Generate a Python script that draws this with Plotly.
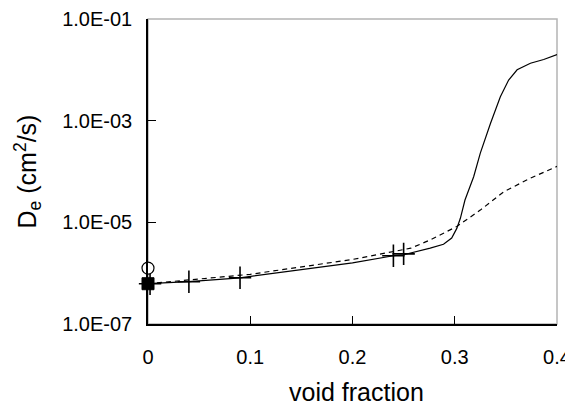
import plotly.graph_objects as go

# Solid curve
solid_x = [0, 0.04, 0.09, 0.2, 0.24, 0.25, 0.276, 0.289, 0.297, 0.302, 0.3055, 0.310,
           0.3185, 0.325, 0.335, 0.3446, 0.3527, 0.361, 0.374, 0.387, 0.4]
solid_y = [6.2e-7, 6.8e-7, 8.1e-7, 1.6e-6, 2.2e-6, 2.3e-6, 3.1e-6, 3.7e-6, 4.9e-6, 7.6e-6, 1.2e-5, 2.75e-5,
           7.9e-5, 2.3e-4, 8.9e-4, 2.95e-3, 6.3e-3, 1.0e-2, 1.35e-2, 1.6e-2, 2.0e-2]

# Dashed curve
dashed_x = [0, 0.1, 0.2, 0.257, 0.276, 0.302, 0.325, 0.348, 0.374, 0.4]
dashed_y = [6.2e-7, 9.5e-7, 1.86e-6, 3.1e-6, 4.5e-6, 8.3e-6, 1.74e-5, 4.0e-5, 7.4e-5, 1.26e-4]

# Plus markers
plus_x = [0.002, 0.04, 0.09, 0.24, 0.25]
plus_y = [6.2e-7, 6.8e-7, 8.1e-7, 2.2e-6, 2.4e-6]

# Open circle and filled square
circle_x = [0]
circle_y = [1.26e-6]
square_x = [0]
square_y = [6.2e-7]

x_ticks = [0, 0.1, 0.2, 0.3, 0.4]
x_ticktext = ["0", "0.1", "0.2", "0.3", "0.4"]
y_ticks = [1e-7, 1e-5, 1e-3, 1e-1]
y_ticktext = ["1.0E-07", "1.0E-05", "1.0E-03", "1.0E-01"]

FONT = "Liberation Sans, Arial, sans-serif"

fig = go.Figure()
fig.add_trace(go.Scatter(x=dashed_x, y=dashed_y, mode="lines",
                         line=dict(color="black", width=1.2, dash="5px,4px"),
                         cliponaxis=False, showlegend=False))
fig.add_trace(go.Scatter(x=solid_x, y=solid_y, mode="lines",
                         line=dict(color="black", width=1.2),
                         cliponaxis=False, showlegend=False))
fig.add_trace(go.Scatter(x=plus_x, y=plus_y, mode="markers",
                         marker=dict(symbol="cross-thin", size=16,
                                     line=dict(color="black", width=1.6)),
                         cliponaxis=False, showlegend=False))
fig.add_trace(go.Scatter(x=circle_x, y=circle_y, mode="markers",
                         marker=dict(symbol="circle", size=12, color="white",
                                     line=dict(color="black", width=1.2)),
                         cliponaxis=False, showlegend=False))
fig.add_trace(go.Scatter(x=square_x, y=square_y, mode="markers",
                         marker=dict(symbol="square", size=12, color="black",
                                     line=dict(color="black", width=1)),
                         cliponaxis=False, showlegend=False))

fig.add_shape(type="rect", xref="paper", yref="paper", x0=0, y0=0, x1=1, y1=1,
              line=dict(color="#b4b4b4", width=1.5), layer="below")

fig.update_layout(
    width=565, height=397,
    margin=dict(l=140, r=16, t=11, b=81, autoexpand=False),
    paper_bgcolor="white", plot_bgcolor="white",
    font=dict(family=FONT, color="black", size=20),
    xaxis=dict(range=[0, 0.4], tickvals=x_ticks, ticktext=x_ticktext,
               showgrid=False, zeroline=False, showline=True, automargin=False,
               linecolor="black", linewidth=1.5,
               ticks="inside", ticklen=8, tickcolor="black", tickwidth=1.2,
               tickfont=dict(size=20, family=FONT), ticklabelstandoff=14),
    yaxis=dict(type="log", range=[-7, -1], tickvals=y_ticks, ticktext=y_ticktext,
               showgrid=False, zeroline=False, showline=True, automargin=False,
               linecolor="black", linewidth=1.5,
               ticks="inside", ticklen=8, tickcolor="black", tickwidth=1.2,
               tickfont=dict(size=20, family=FONT), ticklabelstandoff=10),
    annotations=[
        dict(text="void fraction", xref="paper", yref="paper",
             x=(356 - 148) / 409, y=(324 - 392) / 305,
             xanchor="center", yanchor="middle", showarrow=False,
             font=dict(size=25, family=FONT)),
        dict(text="D<sub>e</sub> (cm<sup>2</sup>/s)", xref="paper", yref="paper",
             x=(27 - 148) / 409, y=0.5, textangle=-90,
             xanchor="center", yanchor="middle", showarrow=False,
             font=dict(size=25, family=FONT)),
    ],
)

fig.write_html("out.html")
